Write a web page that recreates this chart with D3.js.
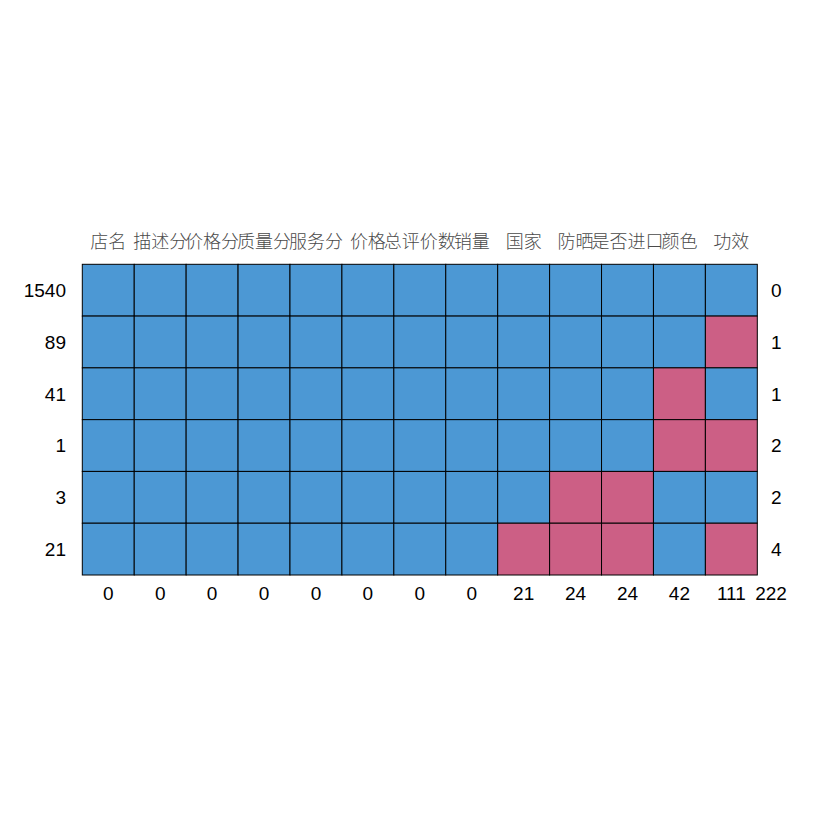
<!DOCTYPE html>
<html><head><meta charset="utf-8">
<script src="https://cdn.jsdelivr.net/npm/d3@7"></script>
<style>body{margin:0;background:#fff;} svg{display:block;}</style>
</head><body>
<script>
const variables = ["店名","描述分","价格分","质量分","服务分","价格","总评价数","销量","国家","防晒","是否进口","颜色","功效"];
const rowCounts = [1540, 89, 41, 1, 3, 21];
const rowMissing = [0, 1, 1, 2, 2, 4];
const colMissing = [0, 0, 0, 0, 0, 0, 0, 0, 21, 24, 24, 42, 111];
const totalMissing = 222;
// 1 = observed, 0 = missing
const patterns = [
  [1,1,1,1,1,1,1,1,1,1,1,1,1],
  [1,1,1,1,1,1,1,1,1,1,1,1,0],
  [1,1,1,1,1,1,1,1,1,1,1,0,1],
  [1,1,1,1,1,1,1,1,1,1,1,0,0],
  [1,1,1,1,1,1,1,1,1,0,0,1,1],
  [1,1,1,1,1,1,1,1,0,0,0,1,0]
];

const W = 840, H = 840;
const gLeft = 82.3, gRight = 757.3, gTop = 264.3, gBottom = 575;
const svg = d3.select("body").append("svg").attr("width", W).attr("height", H);

const x = d3.scaleBand().domain(d3.range(variables.length)).range([gLeft, gRight]);
const y = d3.scaleBand().domain(d3.range(rowCounts.length)).range([gTop, gBottom]);
const color = v => v === 1 ? "#4C98D4" : "#CC5F85";

const cells = [];
patterns.forEach((r, i) => r.forEach((v, j) => cells.push({i, j, v})));
svg.append("g").selectAll("rect").data(cells).join("rect")
  .attr("x", d => x(d.j)).attr("y", d => y(d.i))
  .attr("width", x.bandwidth()).attr("height", y.bandwidth())
  .attr("fill", d => color(d.v)).attr("stroke", "#000").attr("stroke-width", 1);

const num = "'Liberation Sans', Arial, sans-serif";
// top labels
svg.append("g").selectAll("text").data(variables).join("text")
  .attr("x", (d, j) => x(j) + x.bandwidth() / 2).attr("y", 248)
  .attr("text-anchor", "middle")
  .attr("font-family", "'Noto Sans CJK SC', sans-serif").attr("font-weight", 300)
  .attr("font-size", 18).attr("fill", "#4a4a4a")
  .text(d => d);
// left labels
svg.append("g").selectAll("text").data(rowCounts).join("text")
  .attr("x", 66).attr("y", (d, i) => y(i) + y.bandwidth() / 2)
  .attr("dy", "0.36em").attr("text-anchor", "end")
  .attr("font-family", num).attr("font-size", 19).attr("fill", "#000")
  .text(d => d);
// right labels
svg.append("g").selectAll("text").data(rowMissing).join("text")
  .attr("x", 771).attr("y", (d, i) => y(i) + y.bandwidth() / 2)
  .attr("dy", "0.36em").attr("text-anchor", "start")
  .attr("font-family", num).attr("font-size", 19).attr("fill", "#000")
  .text(d => d);
// bottom labels
svg.append("g").selectAll("text").data(colMissing.concat([totalMissing])).join("text")
  .attr("x", (d, j) => j < variables.length ? x(j) + x.bandwidth() / 2 : 771)
  .attr("y", 600)
  .attr("text-anchor", "middle")
  .attr("font-family", num).attr("font-size", 19).attr("fill", "#000")
  .text(d => d);
</script>
</body></html>
